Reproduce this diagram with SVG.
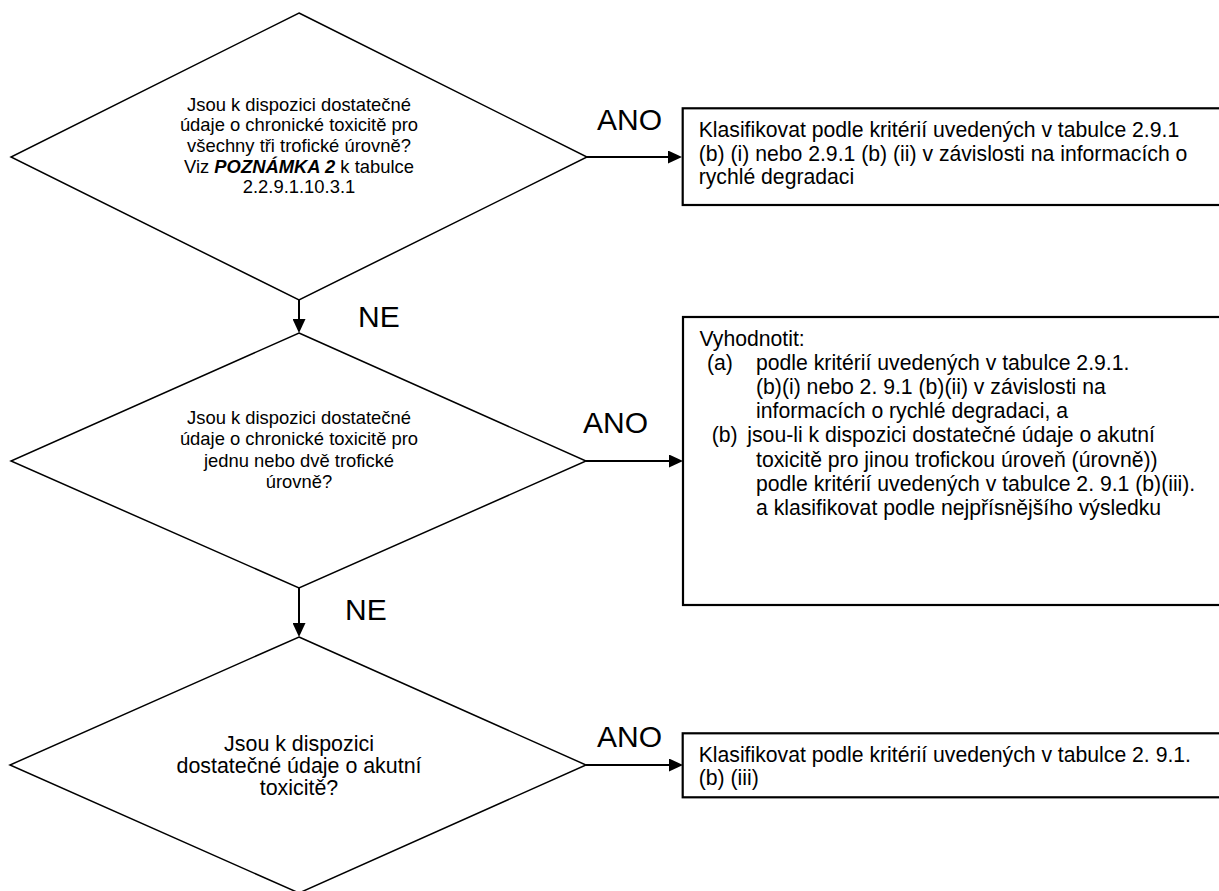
<svg xmlns="http://www.w3.org/2000/svg" width="1219" height="891" viewBox="0 0 1219 891">
<style>
  .dia { fill: #ffffff; stroke: #000000; stroke-width: 1.5; }
  .box { fill: #ffffff; stroke: #000000; stroke-width: 2.2; }
  .conn { stroke: #000000; stroke-width: 2; fill: none; }
  .dt { font-family: "Liberation Sans", Arial, sans-serif; font-size: 18.4px; fill: #000000; text-anchor: middle; }
  .dt3 { font-family: "Liberation Sans", Arial, sans-serif; font-size: 21.4px; fill: #000000; text-anchor: middle; }
  .bt { font-family: "Liberation Sans", Arial, sans-serif; font-size: 21.2px; fill: #000000; }
  .lbl { font-family: "Liberation Sans", Arial, sans-serif; font-size: 30px; fill: #000000; }
  .bi { font-weight: bold; font-style: italic; }
</style>
<defs>
  <marker id="arr" viewBox="0 0 14 13" refX="4" refY="6.5" markerWidth="14" markerHeight="13" markerUnits="userSpaceOnUse" orient="auto">
    <path d="M0,0 L14,6.5 L0,13 z" fill="#000000"/>
  </marker>
</defs>
<rect x="0" y="0" width="1219" height="891" fill="#ffffff"/>

<g id="d1">
  <polygon class="dia" points="299,13 587,157 299,300 11,157"/>
  <text class="dt" x="299" y="110.7">Jsou k dispozici dostatečné</text>
  <text class="dt" x="299" y="131.3">údaje o chronické toxicitě pro</text>
  <text class="dt" x="299" y="152">všechny tři trofické úrovně?</text>
  <text class="dt" x="299" y="172.6">Viz <tspan class="bi">POZNÁMKA 2</tspan> k tabulce</text>
  <text class="dt" x="299" y="193.3">2.2.9.1.10.3.1</text>
</g>

<g id="d2">
  <polygon class="dia" points="299,333 586,461 299,588 11,461"/>
  <text class="dt" x="299" y="424">Jsou k dispozici dostatečné</text>
  <text class="dt" x="299" y="445.3">údaje o chronické toxicitě pro</text>
  <text class="dt" x="299" y="466.6">jednu nebo dvě trofické</text>
  <text class="dt" x="299" y="488">úrovně?</text>
</g>

<g id="d3">
  <polygon class="dia" points="299,637 586,765 299,893 10,765"/>
  <text class="dt3" x="299" y="751">Jsou k dispozici</text>
  <text class="dt3" x="299" y="773.3">dostatečné údaje o akutní</text>
  <text class="dt3" x="299" y="795">toxicitě?</text>
</g>

<g id="b1">
  <rect class="box" x="682.7" y="108.3" width="545" height="96.7"/>
  <text class="bt" x="698.7" y="137.3">Klasifikovat podle kritérií uvedených v tabulce 2.9.1</text>
  <text class="bt" x="698.7" y="160.7">(b) (i) nebo 2.9.1 (b) (ii) v závislosti na informacích o</text>
  <text class="bt" x="698.7" y="184">rychlé degradaci</text>
</g>

<g id="b2">
  <rect class="box" x="683" y="317" width="545" height="288"/>
  <text class="bt" x="699.5" y="345.5">Vyhodnotit:</text>
  <text class="bt" x="707" y="369.7">(a)</text>
  <text class="bt" x="756" y="369.7">podle kritérií uvedených v tabulce 2.9.1.</text>
  <text class="bt" x="756" y="393.9">(b)(i) nebo 2. 9.1 (b)(ii) v závislosti na</text>
  <text class="bt" x="756" y="418.1">informacích o rychlé degradaci, a</text>
  <text class="bt" x="711.7" y="442.3">(b)</text>
  <text class="bt" x="747.3" y="442.3">jsou-li k dispozici dostatečné údaje o akutní</text>
  <text class="bt" x="756" y="466.5">toxicitě pro jinou trofickou úroveň (úrovně))</text>
  <text class="bt" x="756" y="490.7">podle kritérií uvedených v tabulce 2. 9.1 (b)(iii).</text>
  <text class="bt" x="756" y="514.9">a klasifikovat podle nejpřísnějšího výsledku</text>
</g>

<g id="b3">
  <rect class="box" x="682.7" y="733.3" width="545" height="64"/>
  <text class="bt" x="698.7" y="761.7">Klasifikovat podle kritérií uvedených v tabulce 2. 9.1.</text>
  <text class="bt" x="698.7" y="785">(b) (iii)</text>
</g>

<g id="connectors">
  <line class="conn" x1="299" y1="300" x2="299" y2="323" marker-end="url(#arr)"/>
  <line class="conn" x1="299" y1="588" x2="299" y2="627" marker-end="url(#arr)"/>
  <line class="conn" x1="587" y1="157" x2="672" y2="157" marker-end="url(#arr)"/>
  <line class="conn" x1="586" y1="461" x2="673" y2="461" marker-end="url(#arr)"/>
  <line class="conn" x1="586" y1="765" x2="673" y2="765" marker-end="url(#arr)"/>
  <text class="lbl" x="597" y="129.5">ANO</text>
  <text class="lbl" x="358" y="326.7">NE</text>
  <text class="lbl" x="583" y="432.7">ANO</text>
  <text class="lbl" x="345" y="620">NE</text>
  <text class="lbl" x="597" y="746.7">ANO</text>
</g>
</svg>
